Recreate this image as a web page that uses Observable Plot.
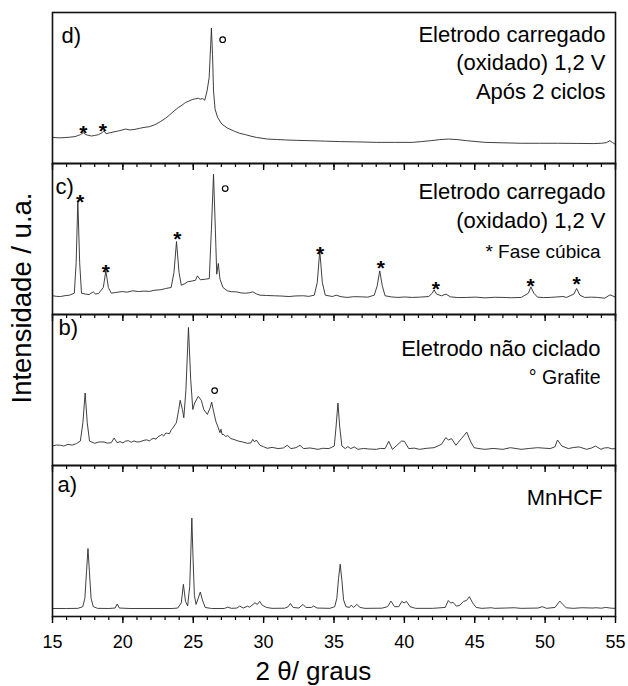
<!DOCTYPE html>
<html><head><meta charset="utf-8">
<script src="https://cdn.jsdelivr.net/npm/d3@7"></script>
<script src="https://cdn.jsdelivr.net/npm/@observablehq/plot@0.6"></script>
<style>body{margin:0;background:#fff}svg{overflow:visible}</style>
</head><body><div id="chart"></div>
<script>
// Panels, top to bottom
const panels = ["d", "c", "b", "a"];

// x tick values (2θ, degrees)
const majorTicks = [15, 20, 25, 30, 35, 40, 45, 50, 55];
const minorTicks = [15,16,17,18,19,20,21,22,23,24,25,26,27,28,29,30,31,32,33,34,35,36,37,38,39,40,41,42,43,44,45,46,47,48,49,50,51,52,53,54,55];

// Intensity, in % of each panel's height: [2θ, intensity]
const patternD = [
  [15.0,17.3],[15.4,17.0],[15.82,17.1],[16.2,17.4],[16.6,17.8],[16.98,19.1],[17.19,20.4],[17.37,19.1],[17.76,18.2],[18.0,18.6],
  [18.27,19.1],[18.53,20.4],[18.66,21.7],[18.81,19.7],[19.05,20.3],[19.3,20.8],[19.7,21.6],[20.2,22.8],[20.5,22.2],[20.85,22.6],
  [21.2,23.3],[21.5,23.9],[21.9,24.4],[22.27,25.7],[22.65,27.6],[23.04,30.0],[23.3,32.0],[23.56,34.2],[23.94,37.1],[24.2,38.6],
  [24.45,40.4],[24.7,41.4],[24.97,42.5],[25.15,42.8],[25.36,43.2],[25.5,42.6],[25.67,43.0],[25.82,41.9],[25.98,48.0],[26.13,56.8],
  [26.24,78.7],[26.29,89.7],[26.37,72.1],[26.44,48.0],[26.55,36.0],[26.73,30.5],[27.03,26.1],[27.42,23.5],[27.94,21.3],[28.3,20.0],
  [28.71,19.1],[29.1,18.1],[29.48,17.3],[30.26,16.2],[30.9,15.9],[31.55,15.6],[32.4,15.3],[33.35,15.1],[34.4,14.8],[35.41,14.5],
  [36.7,14.3],[38.0,14.0],[39.3,14.0],[40.57,14.0],[41.2,14.5],[41.86,15.1],[42.5,15.8],[43.14,16.2],[43.8,15.8],[44.43,15.1],
  [45.72,14.0],[47.0,13.7],[48.3,13.4],[49.6,13.4],[50.88,13.4],[52.2,13.3],[53.45,13.2],[54.0,13.4],[54.35,13.8],[54.6,15.1],
  [54.8,13.8],[54.95,12.9]
];
const patternC = [
  [15.0,12.4],[15.3,12.0],[15.57,11.9],[15.9,12.5],[16.21,12.8],[16.55,14.1],[16.68,34.4],[16.8,75.3],[16.93,34.4],[17.06,14.1],
  [17.37,13.5],[17.6,13.2],[17.89,15.0],[18.05,13.6],[18.27,13.9],[18.61,17.9],[18.79,28.9],[18.97,17.9],[19.18,14.1],[19.5,14.6],
  [19.95,15.2],[20.3,14.8],[20.7,15.7],[21.1,15.2],[21.5,15.5],[21.9,15.3],[22.27,16.1],[22.7,16.4],[23.04,17.2],[23.43,17.9],
  [23.63,27.8],[23.81,48.3],[23.99,27.8],[24.15,19.4],[24.4,20.4],[24.6,21.6],[24.97,22.3],[25.15,22.6],[25.3,25.6],[25.5,23.0],
  [25.88,23.4],[26.14,23.8],[26.29,56.5],[26.44,92.9],[26.57,56.5],[26.67,26.7],[26.78,33.8],[26.9,23.4],[27.11,17.9],[27.42,15.7],
  [27.7,15.1],[28.07,15.0],[28.4,14.3],[28.71,14.1],[29.0,14.4],[29.23,15.0],[29.5,13.6],[29.74,12.8],[30.2,12.6],[30.77,12.4],
  [31.3,12.2],[31.8,11.9],[32.3,12.3],[32.84,12.4],[33.2,12.0],[33.6,12.8],[33.81,21.2],[33.99,42.2],[34.17,21.2],[34.38,12.8],
  [34.9,11.9],[35.15,12.8],[35.5,11.8],[35.93,11.3],[36.4,11.8],[36.96,11.7],[37.4,11.5],[37.86,12.8],[38.07,19.0],[38.25,28.9],
  [38.43,19.0],[38.63,12.4],[39.1,11.6],[39.54,11.3],[40.0,11.6],[40.57,11.3],[41.1,11.5],[41.73,11.9],[41.98,14.1],[42.11,16.3],
  [42.29,13.5],[42.63,12.4],[42.96,13.5],[43.27,11.7],[43.8,11.2],[44.43,11.3],[45.1,11.5],[45.72,11.0],[46.4,11.4],[47.0,11.3],
  [47.6,11.1],[48.3,11.3],[48.81,14.1],[48.99,18.3],[49.2,14.1],[49.46,11.5],[49.9,11.2],[50.36,11.3],[50.8,11.6],[51.27,11.9],
  [51.52,11.3],[52.04,13.5],[52.24,17.2],[52.47,12.8],[52.81,11.3],[53.3,11.5],[53.71,11.3],[54.23,10.8],[54.61,13.0],[55.0,11.5]
];
const patternB = [
  [15.0,12.9],[15.3,13.6],[15.57,13.4],[15.8,12.9],[16.1,14.0],[16.4,13.5],[16.7,14.5],[16.98,16.2],[17.16,28.3],[17.32,48.0],
  [17.47,28.3],[17.63,16.2],[18.0,14.7],[18.3,15.6],[18.66,15.6],[18.9,14.8],[19.17,15.1],[19.38,18.2],[19.59,15.1],[19.8,15.8],
  [20.0,15.0],[20.2,16.2],[20.4,16.4],[20.6,15.4],[20.8,16.3],[20.98,15.6],[21.2,15.7],[21.5,16.7],[21.7,17.0],[21.9,16.2],
  [22.0,17.3],[22.2,18.0],[22.35,17.4],[22.5,19.1],[22.65,19.8],[22.78,20.6],[22.9,19.5],[23.05,21.5],[23.17,21.3],[23.3,21.0],
  [23.45,23.8],[23.56,25.0],[23.8,28.3],[23.97,37.1],[24.07,43.2],[24.23,37.1],[24.33,31.6],[24.48,50.2],[24.66,91.4],[24.82,56.8],
  [24.97,37.1],[25.1,41.4],[25.36,45.8],[25.57,43.2],[25.75,37.1],[26.0,33.8],[26.2,38.2],[26.31,41.9],[26.44,36.0],[26.6,29.4],
  [26.78,25.0],[26.85,23.0],[26.9,21.7],[26.97,24.0],[27.05,20.5],[27.16,20.6],[27.3,19.2],[27.45,19.8],[27.68,17.8],[27.9,17.2],
  [28.2,16.2],[28.5,15.6],[28.84,14.7],[29.1,15.0],[29.23,17.3],[29.36,15.6],[29.48,16.9],[29.74,13.4],[30.0,12.4],[30.26,11.4],
  [30.6,12.0],[31.03,11.2],[31.4,11.6],[31.68,13.4],[31.94,11.2],[32.3,11.8],[32.58,13.4],[32.84,11.2],[33.3,11.6],[33.87,10.7],
  [34.2,11.4],[34.64,11.2],[35.02,12.9],[35.15,26.1],[35.28,41.4],[35.4,26.1],[35.56,12.9],[35.8,11.2],[35.98,12.5],[36.19,11.2],
  [36.44,12.3],[36.7,10.7],[37.1,11.3],[37.5,10.9],[38.0,10.7],[38.3,11.3],[38.63,11.2],[38.89,16.0],[39.15,10.7],[39.54,14.0],
  [39.8,16.2],[40.0,16.0],[40.31,11.2],[40.7,11.5],[41.08,10.7],[41.6,11.4],[42.11,11.8],[42.63,14.0],[42.94,18.4],[43.14,16.9],
  [43.35,17.8],[43.66,13.4],[44.05,17.8],[44.43,22.1],[44.69,16.2],[44.95,11.8],[45.3,11.2],[45.72,10.7],[46.3,11.3],[47.0,10.7],
  [47.53,11.8],[48.3,10.7],[48.9,11.3],[49.46,11.8],[50.36,11.2],[50.7,12.4],[50.88,16.9],[51.19,12.9],[51.65,11.2],[52.0,11.9],
  [52.42,12.3],[52.94,10.7],[53.3,11.6],[53.58,12.9],[53.97,10.7],[54.2,11.6],[54.48,11.8],[54.75,11.0],[55.0,11.2]
];
const patternA = [
  [15.0,5.3],[16.0,5.3],[16.8,5.4],[17.15,6.5],[17.3,12],[17.42,30],[17.52,45],[17.62,30],[17.74,12],[17.9,6.5],
  [18.2,5.4],[19.0,5.3],[19.45,5.6],[19.6,8.3],[19.75,5.6],[20.5,5.3],[22.0,5.3],[23.5,5.3],[23.9,5.6],[24.15,9],
  [24.3,21.3],[24.45,10],[24.6,7],[24.75,20],[24.82,40],[24.9,65.2],[24.98,40],[25.08,14],[25.2,8],[25.35,12],
  [25.5,16.2],[25.65,11],[25.85,6],[26.3,5.3],[27.2,5.3],[27.45,6.2],[27.7,5.4],[28.1,5.6],[28.3,6.9],[28.55,5.6],
  [28.85,6.8],[29.0,6.2],[29.25,8],[29.38,9.1],[29.55,8],[29.72,10.0],[29.9,7.5],[30.2,6],[30.6,5.4],[31.5,5.5],
  [31.75,6.5],[31.9,8.6],[32.1,6],[32.5,5.6],[32.8,8.0],[33.0,6],[33.4,6],[33.55,6.9],[33.8,5.6],[34.7,5.4],
  [35.05,6.5],[35.2,12],[35.32,25],[35.44,34.6],[35.56,24],[35.68,11],[35.85,6.5],[36.1,6],[36.22,7.5],[36.4,6],
  [36.62,8.0],[36.85,6],[37.2,5.4],[38.4,5.5],[38.8,6.5],[39.05,10.2],[39.3,6.5],[39.6,6.5],[39.82,10.0],[39.98,9],
  [40.15,10.0],[40.4,6.5],[40.8,5.4],[42.0,5.4],[42.9,6],[43.12,10.6],[43.3,8.8],[43.45,9.5],[43.7,6.8],[43.95,7.5],
  [44.2,10],[44.4,10.5],[44.62,13.1],[44.85,9],[45.1,6],[45.5,5.4],[46.2,5.8],[46.4,5.4],[47.2,5.6],[47.8,5.8],
  [48.3,5.4],[49.5,5.6],[49.8,6.5],[50.1,5.4],[50.7,6],[50.9,8.5],[51.05,10.2],[51.25,8],[51.5,5.8],[52.0,5.4],
  [52.6,5.8],[53.4,5.6],[53.6,5.8],[54.0,5.5],[54.3,6],[54.7,5.5],[55.0,5.4]
];

// Peak markers: "*" cubic phase, "o" graphite
const starPanel = ["d", "d", "c", "c", "c", "c", "c", "c", "c", "c"];
const starX = [17.19, 18.58, 16.96, 18.79, 23.87, 34.02, 38.32, 42.24, 48.97, 52.24];
const starY = [23.9, 25.4, 78.1, 31.8, 53.6, 43.9, 34.4, 20.5, 22.7, 24.3];
const ringPanel = ["d", "c", "b"];
const ringX = [27.09, 27.27, 26.52];
const ringY = [82.0, 83.4, 49.6];

// Texts
const panelLetters = ["d)", "c)", "b)", "a)"];
const titleD = ["Eletrodo carregado", "(oxidado) 1,2 V", "Após 2 ciclos"];
const titleC = ["Eletrodo carregado", "(oxidado) 1,2 V"];
const noteC = "* Fase cúbica";
const titleB = "Eletrodo não ciclado";
const noteB = "° Grafite";
const titleA = "MnHCF";
const xLabel = "2 θ/ graus";
const yLabel = "Intensidade / u.a.";

// Build tables
const rows = [];
[["d", patternD], ["c", patternC], ["b", patternB], ["a", patternA]].forEach(([panel, pts]) =>
  pts.forEach(([x, y]) => rows.push({panel, x, y})));
const stars = starX.map((x, i) => ({panel: starPanel[i], x, y: starY[i]}));
const rings = ringX.map((x, i) => ({panel: ringPanel[i], x, y: ringY[i]}));

const FONT = "'Liberation Sans', Arial, Helvetica, sans-serif";
function label(panel, text, {dx, baseline, size, anchor}) {
  return Plot.text([{panel, text}], {
    fy: "panel", text: "text",
    frameAnchor: anchor === "start" ? "top-left" : "top-right",
    textAnchor: anchor, lineAnchor: "bottom",
    dx, dy: baseline, fontSize: size, fill: "#000"
  });
}

const letterPos = {d: [9, 30.7], c: [3, 30.3], b: [6, 20.3], a: [5, 26.3]};

const chart = Plot.plot({
  width: 628, height: 686,
  marginLeft: 52, marginRight: 13, marginTop: 11, marginBottom: 70,
  style: {fontFamily: FONT, background: "#fff", color: "#000"},
  x: {domain: [15, 55]},
  y: {domain: [0, 100], axis: null},
  fy: {domain: panels, padding: 0, axis: null, label: null},
  marks: [
    Plot.line(rows, {x: "x", y: "y", fy: "panel", stroke: "#2a2a2a", strokeWidth: 0.9}),
    Plot.axisX(minorTicks, {facetAnchor: null, tickSize: 4, fill: "none", strokeWidth: 1.2, label: null}),
    Plot.axisX(majorTicks, {facetAnchor: null, tickSize: 7, fill: "none", strokeWidth: 1.4, label: null}),
    Plot.axisX(majorTicks, {facetAnchor: "bottom", tickSize: 0, tickPadding: 19, fontSize: 18, label: null, tickFormat: d => String(d)}),
    Plot.frame({stroke: "#111", strokeWidth: 1.6}),
    Plot.text(stars, {x: "x", y: "y", fy: "panel", text: () => "*", fontSize: 21, fontWeight: "bold", lineAnchor: "middle", dy: 6, fill: "#000"}),
    Plot.dot(rings, {x: "x", y: "y", fy: "panel", r: 2.8, stroke: "#000", strokeWidth: 1.2, fill: "none"}),
    ...panels.map((p, i) => label(p, panelLetters[i], {dx: letterPos[p][0], baseline: letterPos[p][1], size: 22, anchor: "start"})),
    label("d", titleD[0], {dx: -10, baseline: 29, size: 22, anchor: "end"}),
    label("d", titleD[1], {dx: -10, baseline: 57.5, size: 22, anchor: "end"}),
    label("d", titleD[2], {dx: -10, baseline: 86.5, size: 22, anchor: "end"}),
    label("c", titleC[0], {dx: -10, baseline: 35.5, size: 22, anchor: "end"}),
    label("c", titleC[1], {dx: -10, baseline: 64.5, size: 22, anchor: "end"}),
    label("c", noteC, {dx: -15, baseline: 94, size: 19, anchor: "end"}),
    label("b", titleB, {dx: -15, baseline: 41, size: 22, anchor: "end"}),
    label("b", noteB, {dx: -15, baseline: 69, size: 19.5, anchor: "end"}),
    label("a", titleA, {dx: -13, baseline: 39, size: 22, anchor: "end"}),
    Plot.text([{panel: "a", text: xLabel}], {fy: "panel", text: "text", frameAnchor: "bottom-left", textAnchor: "start", lineAnchor: "bottom", dx: 203, dy: 63, fontSize: 26, fill: "#000"}),
    Plot.text([{panel: "c", text: yLabel}], {fy: "panel", text: "text", frameAnchor: "left", textAnchor: "middle", lineAnchor: "middle", rotate: -90, dx: -30.6, dy: 59, fontSize: 27.5, fill: "#000"})
  ]
});
document.getElementById("chart").appendChild(chart);
</script>
</body></html>
